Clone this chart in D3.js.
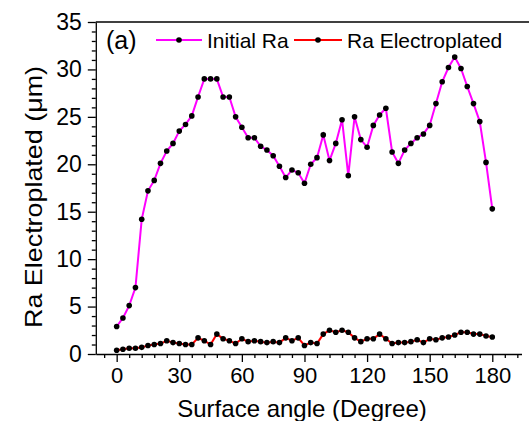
<!DOCTYPE html>
<html>
<head>
<meta charset="utf-8">
<script src="https://cdn.jsdelivr.net/npm/d3@7"></script>
<style>
  body { margin: 0; background: #fff; }
  svg { display: block; font-family: "Liberation Sans", Arial, sans-serif; }
  .axis path, .axis line { stroke: #000; stroke-width: 1.3; }
  .axis text { fill: #000; font-family: "Liberation Sans", Arial, sans-serif; }
  .x-axis text { font-size: 22px; }
  .y-axis text { font-size: 23px; }
</style>
</head>
<body>
<div class="chart"></div>
<script>
// Surface angle (degree)
var angles = [0, 3, 6, 9, 12, 15, 18, 21, 24, 27, 30, 33, 36, 39, 42, 45, 48, 51, 54, 57,
    60, 63, 66, 69, 72, 75, 78, 81, 84, 87, 90, 93, 96, 99, 102, 105, 108, 111, 114, 117,
    120, 123, 126, 129, 132, 135, 138, 141, 144, 147, 150, 153, 156, 159, 162, 165, 168, 171, 174, 177, 180];

// Initial Ra (um)
var initialRa = [2.9, 3.8, 5.1, 7.0, 14.2, 17.2, 18.3, 20.1, 21.4, 22.2, 23.5, 24.2, 25.1, 27.1, 29.0, 29.0, 29.0, 27.1, 27.1, 25.0,
    23.9, 22.8, 22.8, 21.9, 21.5, 20.9, 19.8, 18.6, 19.4, 19.1, 18.0, 20.0, 20.7, 23.1, 20.4, 22.2, 24.7, 18.8, 25.0, 22.6,
    21.8, 24.1, 25.2, 25.9, 21.3, 20.1, 21.5, 22.2, 22.8, 23.2, 24.1, 26.4, 28.7, 30.2, 31.3, 30.1, 28.2, 26.4, 24.5, 20.2, 15.3];

// Ra electroplated (um)
var platedRa = [0.4, 0.5, 0.6, 0.6, 0.7, 0.9, 1.0, 1.1, 1.4, 1.2, 1.1, 1.0, 1.0, 1.7, 1.4, 1.0, 2.1, 1.6, 1.4, 1.1,
    1.6, 1.3, 1.4, 1.3, 1.2, 1.3, 1.2, 1.7, 1.4, 1.7, 0.9, 1.2, 1.1, 2.1, 2.5, 2.3, 2.5, 2.3, 1.7, 1.3,
    1.6, 1.6, 2.1, 1.6, 1.1, 1.2, 1.2, 1.3, 1.5, 1.2, 1.6, 1.5, 1.7, 1.8, 2.0, 2.3, 2.3, 2.1, 2.1, 1.9, 1.8];

var xMajorTicks = [0, 30, 60, 90, 120, 150, 180];
var yMajorTicks = [0, 5, 10, 15, 20, 25, 30, 35];
var seriesNames = ["Initial Ra", "Ra Electroplated"];

var svgWidth = 529;
var svgHeight = 421;

var svg = d3.select(".chart")
    .append("svg")
    .attr("width", svgWidth)
    .attr("height", svgHeight);

var x = d3.scaleLinear().domain([-10, 194]).range([95.8, 521.5]);
var y = d3.scaleLinear().domain([0, 35]).range([354, 22]);

// minor ticks every 6 deg / 1 um
var xMinor = d3.range(-6, 194, 6).filter(function(d) { return d % 30 !== 0; });
var yMinor = d3.range(0, 36, 1).filter(function(d) { return d % 5 !== 0; });

svg.append("g")
    .attr("class", "axis")
    .attr("transform", "translate(0," + y(0) + ")")
    .call(d3.axisBottom(x).tickValues(xMinor).tickSize(4).tickFormat(""))
    .select(".domain").remove();

svg.append("g")
    .attr("class", "axis")
    .attr("transform", "translate(" + x(-10) + ",0)")
    .call(d3.axisLeft(y).tickValues(yMinor).tickSize(4).tickFormat(""))
    .select(".domain").remove();

svg.append("g")
    .attr("class", "axis x-axis")
    .attr("transform", "translate(0," + y(0) + ")")
    .call(d3.axisBottom(x).tickValues(xMajorTicks).tickSizeInner(8).tickSizeOuter(0).tickPadding(5));

svg.append("g")
    .attr("class", "axis y-axis")
    .attr("transform", "translate(" + x(-10) + ",0)")
    .call(d3.axisLeft(y).tickValues(yMajorTicks).tickSizeInner(8).tickSizeOuter(0).tickPadding(6));

// top frame line
svg.append("line")
    .attr("x1", x(-10)).attr("x2", svgWidth)
    .attr("y1", y(35)).attr("y2", y(35))
    .attr("stroke", "#000")
    .attr("stroke-width", 1.3);

var line = d3.line()
    .x(function(d) { return x(d[0]); })
    .y(function(d) { return y(d[1]); });

function drawSeries(values, color) {
    var pts = angles.map(function(a, i) { return [a, values[i]]; });
    svg.append("path")
        .datum(pts)
        .attr("fill", "none")
        .attr("stroke", color)
        .attr("stroke-width", 2)
        .attr("d", line);
    svg.append("g").selectAll("circle")
        .data(pts)
        .enter()
        .append("circle")
        .attr("cx", function(d) { return x(d[0]); })
        .attr("cy", function(d) { return y(d[1]); })
        .attr("r", 2.8)
        .attr("fill", "#000");
}

drawSeries(initialRa, "#ff00ff");
drawSeries(platedRa, "#ff0000");

// panel label and legend
svg.append("text")
    .attr("x", 106)
    .attr("y", 49)
    .style("font-size", "25px")
    .text("(a)");

var legend = [
    { name: seriesNames[0], color: "#ff00ff", x1: 156, x2: 202, tx: 207 },
    { name: seriesNames[1], color: "#ff0000", x1: 294, x2: 342, tx: 347 }
];
legend.forEach(function(l) {
    svg.append("line")
        .attr("x1", l.x1).attr("x2", l.x2)
        .attr("y1", 40).attr("y2", 40)
        .attr("stroke", l.color)
        .attr("stroke-width", 2);
    svg.append("circle")
        .attr("cx", (l.x1 + l.x2) / 2)
        .attr("cy", 40)
        .attr("r", 2.8)
        .attr("fill", "#000");
    svg.append("text")
        .attr("x", l.tx)
        .attr("y", 47.5)
        .style("font-size", "21px")
        .text(l.name);
});

// axis titles
svg.append("text")
    .attr("x", 302)
    .attr("y", 417)
    .attr("text-anchor", "middle")
    .style("font-size", "24px")
    .text("Surface angle (Degree)");

svg.append("text")
    .attr("transform", "translate(42,197) rotate(-90)")
    .attr("text-anchor", "middle")
    .attr("textLength", 262)
    .attr("lengthAdjust", "spacingAndGlyphs")
    .style("font-size", "24px")
    .text("Ra Electroplated (\u03bcm)");
</script>
</body>
</html>
